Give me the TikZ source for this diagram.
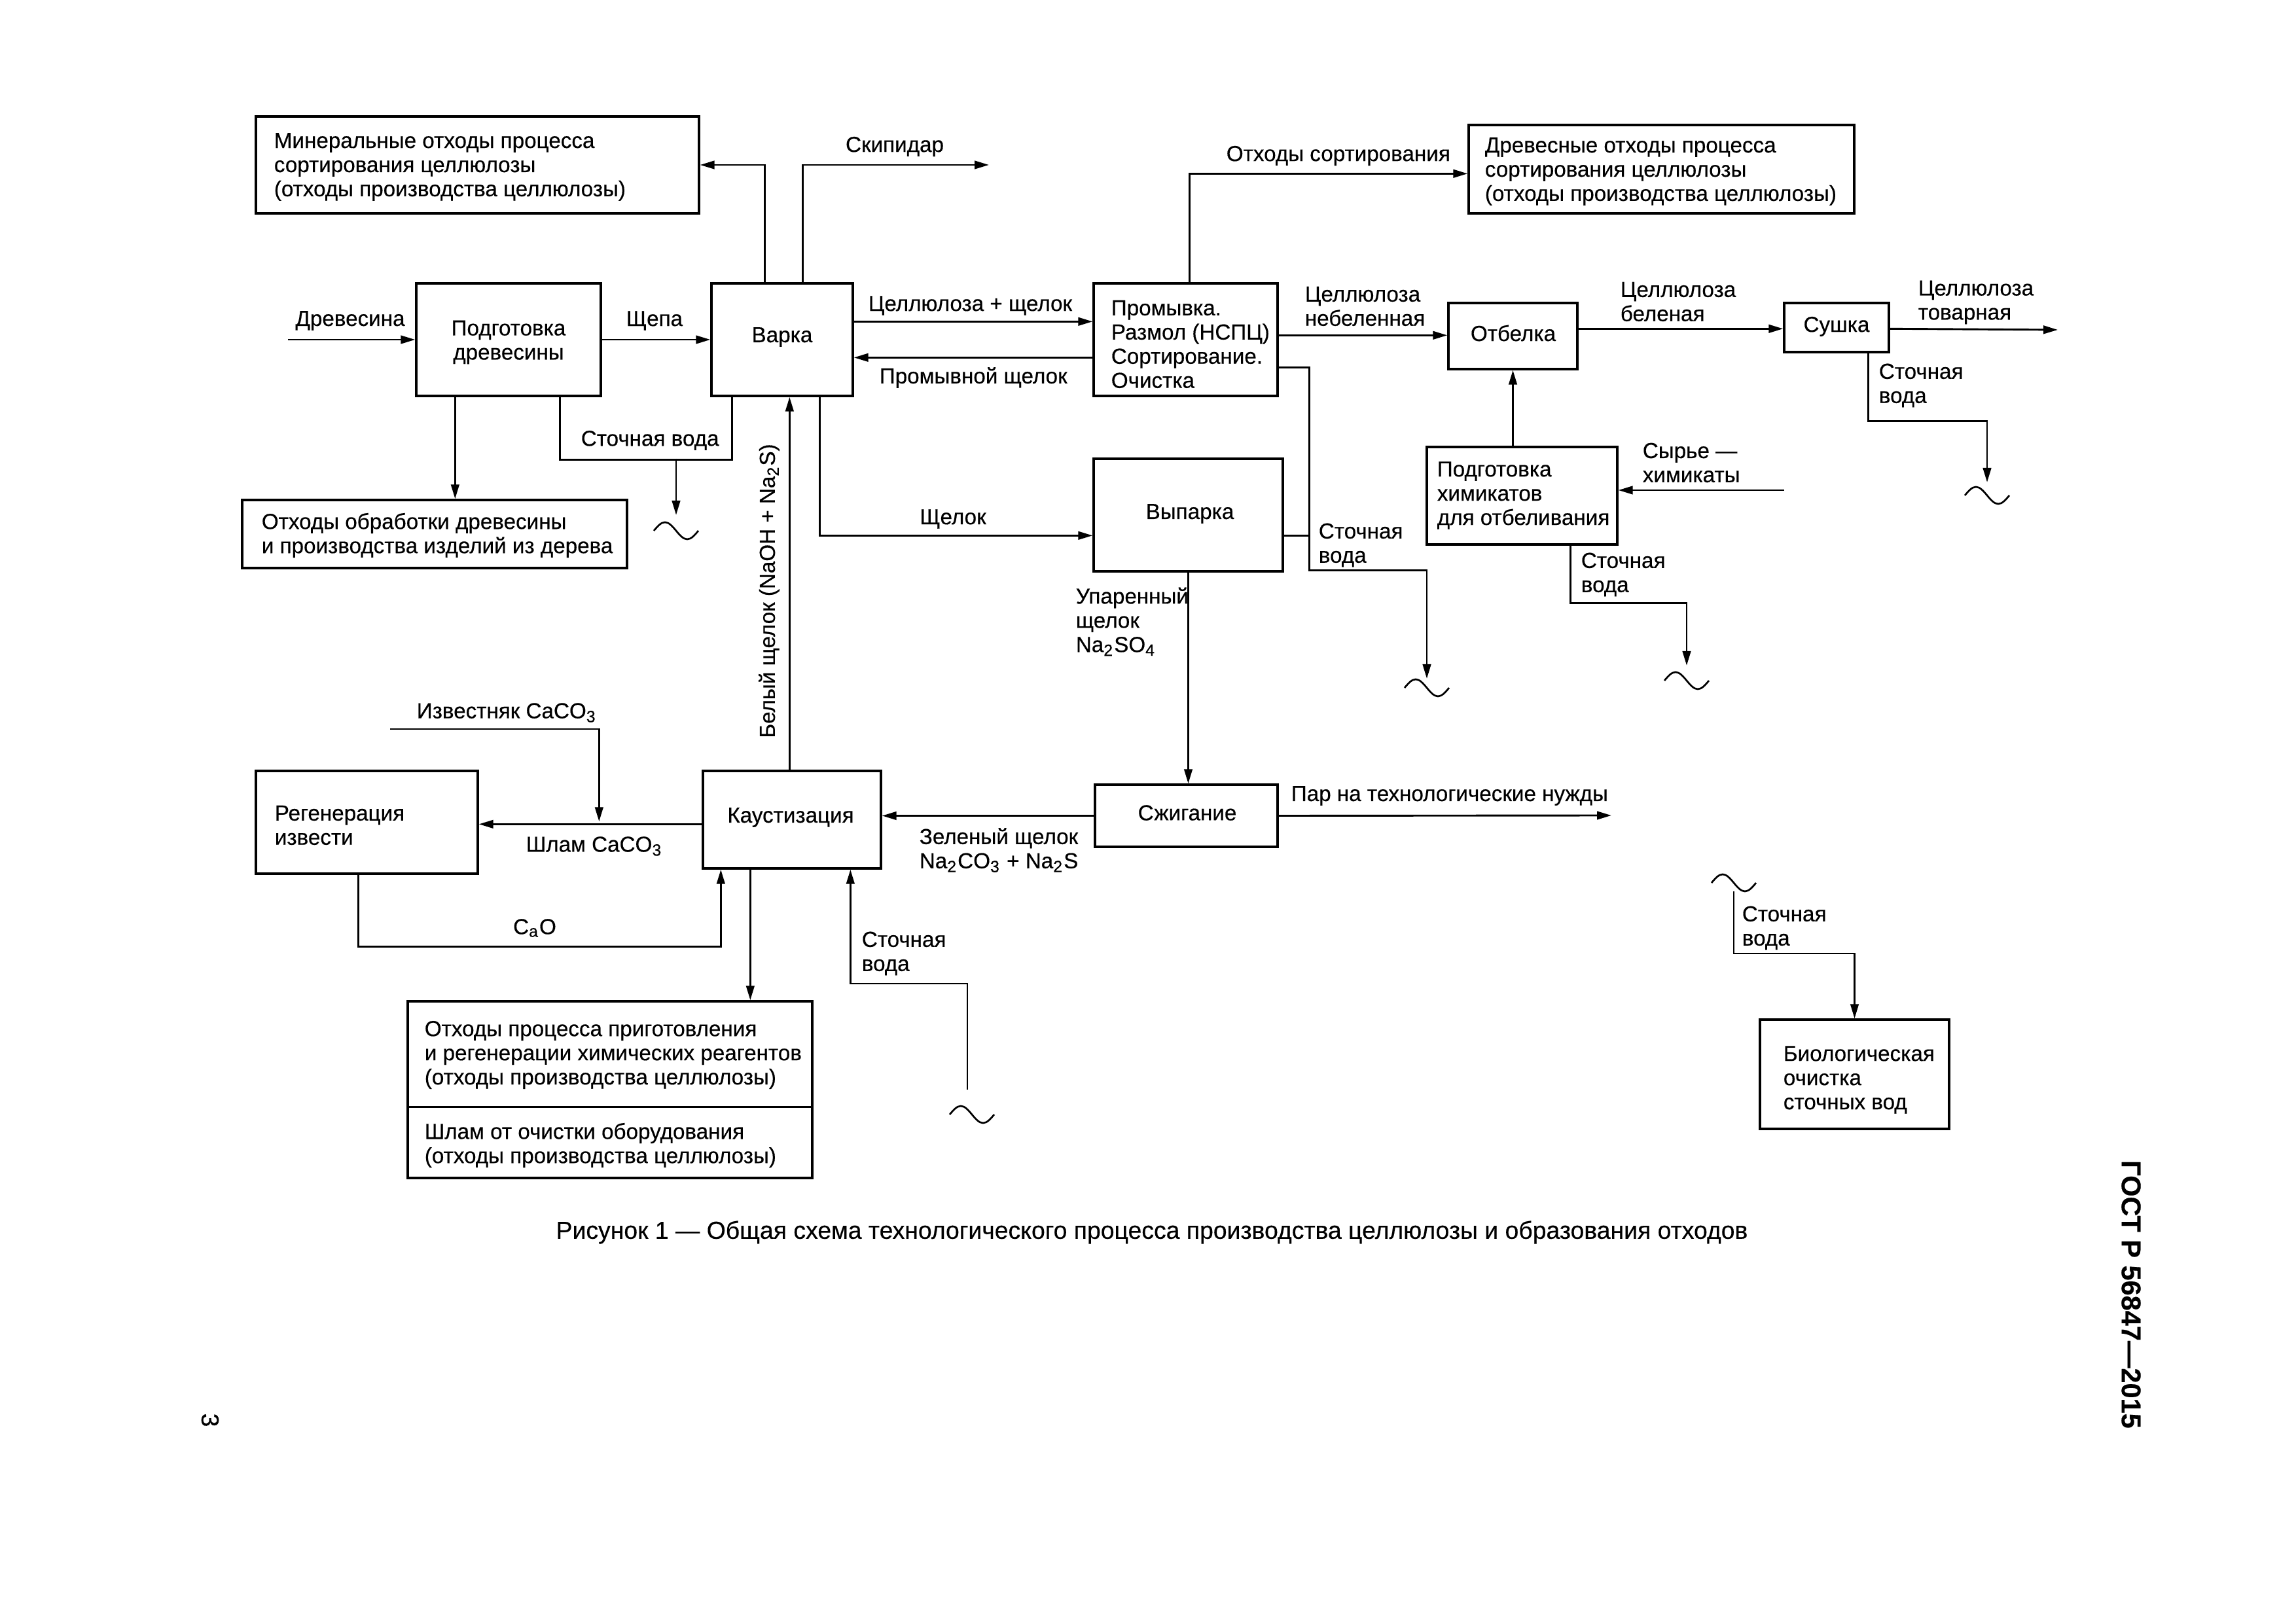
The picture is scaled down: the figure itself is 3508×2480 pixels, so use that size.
\documentclass[tikz,border=0pt]{standalone}
\usepackage{fontspec}
\setmainfont{Liberation Sans}[FakeBold=0.4]
\usetikzlibrary{arrows.meta,calc,fit}
\newcommand\lblfont{\fontsize{8}{8.9}\selectfont}
\newcommand\wavesym[1]{\draw[ln] ($(#1)+(-34,0)$) sin ++(17,-13) cos ++(17,13) sin ++(17,13) cos ++(17,-13);}
\tikzset{
  box/.style={draw, line width=0.8pt, inner sep=0pt},
  ln/.style={line width=0.65pt},
  arr/.style={line width=0.7pt, -{Triangle[length=5.3pt,width=3pt]}},
  lbl/.style={inner sep=0pt, align=left, font=\lblfont},
  lblc/.style={inner sep=0pt, align=center, font=\lblfont},
}
\begin{document}
\begin{tikzpicture}[x=0.084667mm,y=-0.084667mm]
\useasboundingbox (0,0) rectangle (3508,2480);
\fill[white] (0,0) rectangle (3508,2480);

% ---------- boxes ----------
\node[box, fit={(391,178) (1068,326)}] (minA) {};
\node[box, fit={(2244,191) (2833,326)}] (drevA) {};
\node[box, fit={(636,433) (918,605)}] (podg) {};
\node[box, fit={(1087,433) (1303,605)}] (varka) {};
\node[box, fit={(1671,433) (1952,605)}] (promyv) {};
\node[box, fit={(2213,463) (2410,564)}] (otbelka) {};
\node[box, fit={(2726,463) (2886,538)}] (sushka) {};
\node[box, fit={(370,764) (958,868)}] (otxObr) {};
\node[box, fit={(1671,701) (1960,873)}] (vyparka) {};
\node[box, fit={(2180,683) (2471,832)}] (podgchem) {};
\node[box, fit={(391,1178) (730,1335)}] (regen) {};
\node[box, fit={(1074,1178) (1346,1327)}] (kaust) {};
\node[box, fit={(1673,1199) (1952,1294)}] (szhig) {};
\node[box, fit={(623,1530) (1241,1800)}] (otxProc) {};
\node[box, fit={(2689,1558) (2978,1725)}] (bio) {};
\draw[box] ($(otxProc.north west)+(0,163)$) -- ($(otxProc.north east)+(0,163)$);

% ---------- box texts ----------
\node[lbl, anchor=west] (tminA) at (418,255) {Минеральные отходы процесса\\сортирования целлюлозы\\(отходы производства целлюлозы)};
\node[lbl, anchor=west] (tdrevA) at (2268,262) {Древесные отходы процесса\\сортирования целлюлозы\\(отходы производства целлюлозы)};
\node[lblc] (tpodg) at (777,523) {Подготовка\\древесины};
\node[lblc] (tvarka) at (1195,515) {Варка};
\node[lbl, anchor=west] (tpromyv) at (1697,526) {Промывка.\\Размол (НСПЦ)\\Сортирование.\\Очистка};
\node[lblc] (totbelka) at (2312,509) {Отбелка};
\node[lblc] (tsushka) at (2806,499) {Сушка};
\node[lbl, anchor=west] (totxObr) at (399,818) {Отходы обработки древесины\\и производства изделий из дерева};
\node[lblc] (tvyparka) at (1818,785) {Выпарка};
\node[lbl, anchor=west] (tpodgchem) at (2195,757) {Подготовка\\химикатов\\для отбеливания};
\node[lbl, anchor=west] (tregen) at (419,1261) {Регенерация\\извести};
\node[lblc] (tkaust) at (1208,1249) {Каустизация};
\node[lblc] (tszhig) at (1814,1242) {Сжигание};
\node[lbl, anchor=west] (totxProc1) at (648,1612) {Отходы процесса приготовления\\и регенерации химических реагентов\\(отходы производства целлюлозы)};
\node[lbl, anchor=west] (totxProc2) at (648,1750) {Шлам от очистки оборудования\\(отходы производства целлюлозы)};
\node[lbl, anchor=west] (tbio) at (2724,1650) {Биологическая\\очистка\\сточных вод};

% ---------- connector labels ----------
\node[lblc] (lskip) at (1367,224) {Скипидар};
\node[lbl, anchor=west] (lotxs) at (1873,238) {Отходы сортирования};
\node[lblc] (ldrev) at (535,490) {Древесина};
\node[lblc] (lschepa) at (1000,490) {Щепа};
\node[lbl, anchor=west] (lcsh) at (1326,467) {Целлюлоза + щелок};
\node[lbl, anchor=west] (lprsh) at (1343,577) {Промывной щелок};
\node[lbl, anchor=west] (lneb) at (1993,468) {Целлюлоза\\небеленная};
\node[lbl, anchor=west] (lbel) at (2475,461) {Целлюлоза\\беленая};
\node[lbl, anchor=west] (ltov) at (2930,462) {Целлюлоза\\товарная};
\node[lbl, anchor=west] (lsv1) at (2870,589) {Сточная\\вода};
\node[lbl, anchor=west] (lsv2) at (887,673) {Сточная вода};
\node[lbl, rotate=90] (lbelsh) at (1175,903) {Белый щелок (NaOH + Na\textsubscript{2}S)};
\node[lblc] (lschelok) at (1456,793) {Щелок};
\node[lbl, anchor=west] (lsv3) at (2014,833) {Сточная\\вода};
\node[lbl, anchor=west] (lsyr) at (2509,707) {Сырье —\\химикаты};
\node[lbl, anchor=west] (lsv4) at (2415,878) {Сточная\\вода};
\node[lbl, anchor=west] (lupar) at (1643,950) {Упаренный\\щелок\\Na\textsubscript{2}SO\textsubscript{4}};
\node[lbl, anchor=west] (lizv) at (636,1089) {Известняк CaCO\textsubscript{3}};
\node[lbl, anchor=west] (lshlam) at (803,1293) {Шлам CaCO\textsubscript{3}};
\node[lbl, anchor=west] (lzel) at (1404,1299) {Зеленый щелок\\Na\textsubscript{2}CO\textsubscript{3} + Na\textsubscript{2}S};
\node[lblc] (lcao) at (817,1418) {C\textsubscript{a}O};
\node[lbl, anchor=west] (lsv5) at (1316,1457) {Сточная\\вода};
\node[lbl, anchor=west] (lpar) at (1972,1216) {Пар на технологические нужды};
\node[lbl, anchor=west] (lsv6) at (2661,1418) {Сточная\\вода};

% ---------- free ends ----------
\coordinate (drevIn) at (440,519);
\coordinate (skipEnd) at (1511,252);
\coordinate (tovEnd) at (3144,504);
\coordinate (w1) at (3036,737);
\coordinate (j2) at (1033,701);
\coordinate (w2) at (1033,787);
\coordinate (w3) at (2180,1037);
\coordinate (syrIn) at (2726,749);
\coordinate (w4) at (2577,1017);
\coordinate (parEnd) at (2462,1246);
\coordinate (izvIn) at (596,1114);
\coordinate (w5) at (1478,1665);
\coordinate (w6) at (2649,1362);

% ---------- connectors ----------
\draw[arr] (drevIn) -- (podg.west);
\draw[arr] (podg.east) -- (varka.west);
\draw[arr] ($(varka.north west)+(83,0)$) |- (minA.east);
\draw[arr] ($(varka.north west)+(141,0)$) |- (skipEnd);
\draw[arr] ($(varka.north east)+(0,60)$) -- ($(promyv.north west)+(0,60)$);
\draw[arr] ($(promyv.north west)+(0,115)$) -- ($(varka.north east)+(0,115)$);
\draw[arr] ($(promyv.north west)+(148,0)$) |- ($(drevA.north west)+(0,76)$);
\draw[arr] ($(promyv.north east)+(0,81)$) -- ($(otbelka.north west)+(0,51)$);
\draw[arr] ($(otbelka.north east)+(0,41)$) -- ($(sushka.north west)+(0,41)$);
\draw[arr] ($(sushka.north east)+(0,41)$) -- (tovEnd);
\draw[arr] ($(sushka.south west)+(130,0)$) -- ++(0,104) -| (w1);

\coordinate (pA) at ($(podg.south west)+(61,0)$);
\draw[arr] (pA) -- (pA|-otxObr.north);
\draw[ln] ($(podg.south west)+(221,0)$) -- ++(0,96) -| ($(varka.south west)+(33,0)$);
\draw[arr] (j2) -- (w2);
\draw[arr] ($(kaust.north west)+(134,0)$) -- ($(varka.south west)+(121,0)$);
\draw[arr] ($(varka.south west)+(167,0)$) |- ($(vyparka.north west)+(0,119)$);

\draw[arr] ($(promyv.north east)+(0,130)$) -- ++(47,0) -- ++(0,310) -| (w3);
\draw[ln] ($(vyparka.north east)+(0,119)$) -- ++(39,0);
\draw[arr] (podgchem.north-|otbelka.south) -- (otbelka.south);
\draw[arr] (syrIn) -- (syrIn-|podgchem.east);
\draw[arr] ($(podgchem.south west)+(221,0)$) -- ++(0,88) -| (w4);

\draw[arr] (vyparka.south) -- (vyparka.south|-szhig.north);
\draw[arr] (szhig.east) -- (parEnd);
\draw[arr] (szhig.west) -- (szhig.west-|kaust.east);
\coordinate (sl) at ($(kaust.north west)+(0,83)$);
\draw[arr] (sl) -- (sl-|regen.east);
\draw[arr] (izvIn) -| ($(sl)+(-157,-4)$);
\draw[arr] ($(regen.south west)+(158,0)$) -- ++(0,110) -| ($(kaust.south west)+(29,0)$);
\coordinate (kA) at ($(kaust.south west)+(74,0)$);
\draw[arr] (kA) -- (kA|-otxProc.north);
\draw[arr] (w5) -- ++(0,-162) -| ($(kaust.south west)+(227,0)$);
\draw[arr] (w6) -- ++(0,95) -| (bio.north);

% ---------- wave symbols ----------
\wavesym{1033,811}
\wavesym{2180,1051}
\wavesym{2577,1040}
\wavesym{3036,757}
\wavesym{1485,1703}
\wavesym{2649,1349}

% ---------- caption, header, page ----------
\node[inner sep=0pt, font=\fontsize{9}{10}\selectfont] (cap) at (1760,1883) {Рисунок 1 — Общая схема технологического процесса производства целлюлозы и образования отходов};
\node[inner sep=0pt, font=\fontsize{10}{12}\selectfont\bfseries, rotate=-90] (gost) at (3256,1978) {ГОСТ Р 56847—2015};
\node[inner sep=0pt, font=\fontsize{9}{10}\selectfont, rotate=-90] (pg) at (321,2170) {3};
\end{tikzpicture}
\end{document}
